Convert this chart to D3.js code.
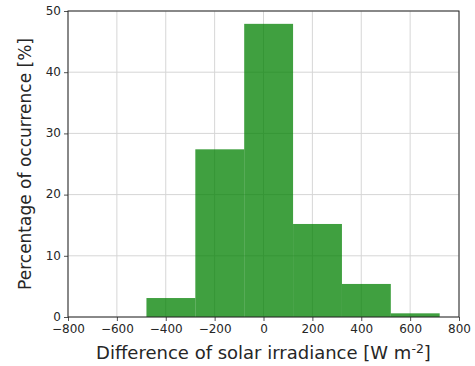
<!DOCTYPE html>
<html>
<head>
<meta charset="utf-8">
<script src="https://cdn.jsdelivr.net/npm/d3@7"></script>
<style>
  body { margin: 0; background: #fff; }
  text { font-family: "DejaVu Sans", sans-serif; }
</style>
</head>
<body>
<div id="wrapper"></div>
<script>
// histogram bins (W m-2) and percentage of occurrence
const binEdges = [-479, -279, -79, 121, 321, 521, 721]
const percents = [3.1, 27.4, 47.9, 15.2, 5.4, 0.6]
const xTicks = [-800, -600, -400, -200, 0, 200, 400, 600, 800]
const yTicks = [0, 10, 20, 30, 40, 50]

const bins = percents.map((p, i) => ({ x0: binEdges[i], x1: binEdges[i + 1], p }))

const dimensions = {
  width: 475,
  height: 366,
  margins: { top: 11, right: 16, bottom: 49, left: 68 }
}
dimensions.boundedWidth = dimensions.width - dimensions.margins.left - dimensions.margins.right
dimensions.boundedHeight = dimensions.height - dimensions.margins.top - dimensions.margins.bottom

const svg = d3.select('#wrapper').append('svg')
  .attr('width', dimensions.width)
  .attr('height', dimensions.height)

const bounds = svg.append('g')
  .attr('transform', `translate(${dimensions.margins.left},${dimensions.margins.top})`)

const xScale = d3.scaleLinear().domain([-800, 800]).range([0, dimensions.boundedWidth])
const yScale = d3.scaleLinear().domain([0, 50]).range([dimensions.boundedHeight, 0])

// grid
bounds.append('g').selectAll('line').data(xTicks).join('line')
  .attr('x1', d => xScale(d)).attr('x2', d => xScale(d))
  .attr('y1', 0).attr('y2', dimensions.boundedHeight)
  .attr('stroke', '#d6d6d6').attr('stroke-width', 1)
bounds.append('g').selectAll('line').data(yTicks).join('line')
  .attr('y1', d => yScale(d)).attr('y2', d => yScale(d))
  .attr('x1', 0).attr('x2', dimensions.boundedWidth)
  .attr('stroke', '#d6d6d6').attr('stroke-width', 1)

// bars
bounds.append('g').selectAll('rect').data(bins).join('rect')
  .attr('x', d => xScale(d.x0))
  .attr('width', d => xScale(d.x1) - xScale(d.x0))
  .attr('y', d => yScale(d.p))
  .attr('height', d => yScale(0) - yScale(d.p))
  .attr('fill', 'green')
  .attr('fill-opacity', 0.75)

// axes
const xAxis = bounds.append('g')
  .attr('transform', `translate(0,${dimensions.boundedHeight})`)
  .call(d3.axisBottom(xScale).tickValues(xTicks).tickSize(4).tickPadding(3)
    .tickFormat(d => d3.format('d')(d).replace('-', '\u2212')))
const yAxis = bounds.append('g')
  .call(d3.axisLeft(yScale).tickValues(yTicks).tickSize(4).tickPadding(3))

;[xAxis, yAxis].forEach(a => {
  a.select('.domain').remove()
  a.selectAll('text').attr('fill', '#262626').style('font-size', '12px')
  a.selectAll('line').attr('stroke', '#262626').attr('stroke-width', 0.8)
})
yAxis.selectAll('text').attr('dy', '0.28em')

// frame
bounds.append('rect')
  .attr('width', dimensions.boundedWidth)
  .attr('height', dimensions.boundedHeight)
  .attr('fill', 'none')
  .attr('stroke', '#262626')
  .attr('stroke-width', 1)

// labels
const xLabel = bounds.append('text')
  .attr('x', dimensions.boundedWidth / 2)
  .attr('y', dimensions.boundedHeight + 42)
  .attr('text-anchor', 'middle')
  .attr('fill', '#262626')
  .style('font-size', '18px')
xLabel.append('tspan').text('Difference of solar irradiance [W m')
xLabel.append('tspan').attr('dy', -6).style('font-size', '12.5px').text('-2')
xLabel.append('tspan').attr('dy', 6).text(']')

bounds.append('text')
  .attr('transform', `translate(-37,${dimensions.boundedHeight / 2}) rotate(-90)`)
  .attr('text-anchor', 'middle')
  .attr('fill', '#262626')
  .style('font-size', '17px')
  .text('Percentage of occurrence [%]')
</script>
</body>
</html>
